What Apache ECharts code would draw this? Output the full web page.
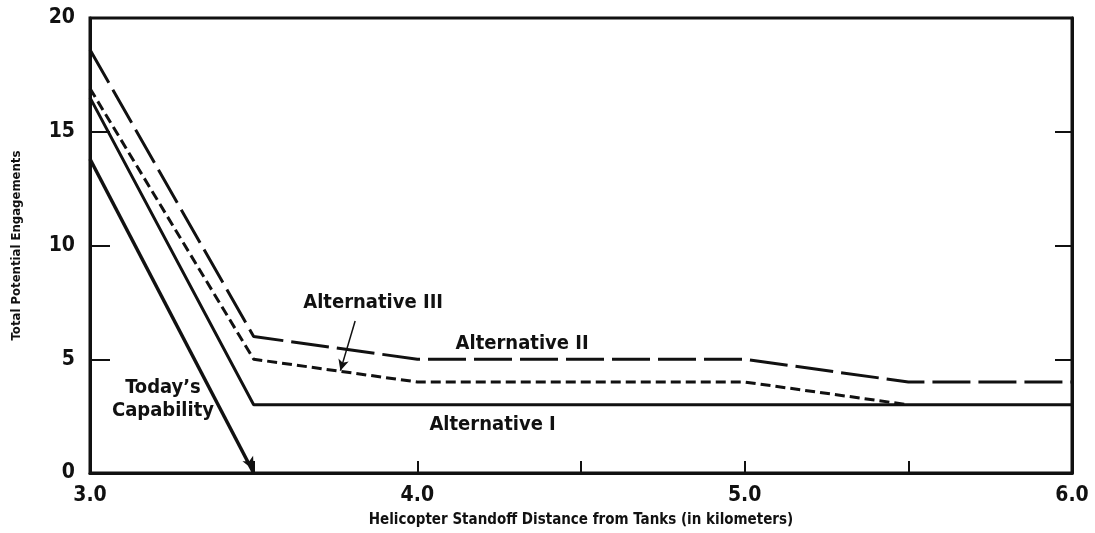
<!DOCTYPE html>
<html>
<head>
<meta charset="utf-8">
<script src="https://cdn.jsdelivr.net/npm/echarts@6/dist/echarts.min.js"></script>
<style>
  html, body { margin: 0; padding: 0; background: #fff; }
  #chart { width: 1095px; height: 533px; }
</style>
</head>
<body>
<div id="chart"></div>
<script>
// distances (km) and engagements
var distTodays = [3.0, 3.5];
var todays = [13.8, 0];
var distAlt1 = [3.0, 3.5, 4.0, 5.0, 5.5, 6.0];
var alt1 = [16.5, 3, 3, 3, 3, 3];
var distAlt2 = [3.0, 3.5, 4.0, 5.0, 5.5, 6.0];
var alt2 = [18.6, 6, 5, 5, 4, 4];
var distAlt3 = [3.0, 3.5, 4.0, 5.0, 5.5];
var alt3 = [16.9, 5, 4, 4, 3];

var FONT = "'DejaVu Sans Condensed', 'Liberation Sans Narrow', 'Liberation Sans', sans-serif";
var INK = '#111';

function pairs(xs, ys) {
  return xs.map(function (x, i) { return [x, ys[i]]; });
}

var chart = echarts.init(document.getElementById('chart'));

var todayData = pairs(distTodays, todays);
todayData[todayData.length - 1] = {
  value: todayData[todayData.length - 1],
  symbol: 'arrow',
  symbolSize: [9, 13],
  symbolRotate: 207,
  symbolOffset: [0, -3],
  itemStyle: { color: INK }
};

var lblStyle = { fontFamily: FONT, fontWeight: 'bold', fontSize: 20, color: INK };

chart.setOption({
  animation: false,
  backgroundColor: '#fff',
  grid: { left: 90, right: 23, top: 18, bottom: 57, show: true, borderColor: INK, borderWidth: 3 },
  xAxis: {
    type: 'value', min: 3, max: 6, interval: 0.5,
    name: 'Helicopter Standoff Distance from Tanks (in kilometers)',
    nameLocation: 'middle', nameGap: 40,
    nameTextStyle: { fontFamily: FONT, fontWeight: 'bold', fontSize: 15, color: INK },
    axisLine: { lineStyle: { color: INK, width: 3 } },
    axisTick: { inside: true, length: 12, lineStyle: { color: INK, width: 2 } },
    axisLabel: {
      margin: 12, fontFamily: FONT, fontWeight: 'bold', fontSize: 21, color: INK,
      formatter: function (v) { return Math.abs(v - Math.round(v)) < 1e-6 ? v.toFixed(1) : ''; }
    },
    splitLine: { show: false }
  },
  yAxis: [{
    type: 'value', min: 0, max: 20, interval: 5,
    name: 'Total Potential Engagements',
    nameLocation: 'middle', nameGap: 67,
    nameTextStyle: { fontFamily: FONT, fontWeight: 'bold', fontSize: 13, color: INK },
    axisLine: { show: true, lineStyle: { color: INK, width: 3 } },
    axisTick: { inside: true, length: 20, lineStyle: { color: INK, width: 2 } },
    axisLabel: { margin: 15, fontFamily: FONT, fontWeight: 'bold', fontSize: 21, color: INK },
    splitLine: { show: false }
  }, {
    type: 'value', min: 0, max: 20, interval: 5, position: 'right',
    axisLine: { show: true, lineStyle: { color: INK, width: 3 } },
    axisTick: { inside: true, length: 17, lineStyle: { color: INK, width: 2 } },
    axisLabel: { show: false },
    splitLine: { show: false }
  }],
  series: [{
    name: "Today’s Capability", type: 'line', data: todayData,
    symbol: 'none', lineStyle: { color: INK, width: 3.5 },
    markPoint: {
      symbol: 'circle', symbolSize: 0,
      label: { show: true, position: 'inside', lineHeight: 23, formatter: "Today’s\nCapability", ...lblStyle },
      data: [{ coord: [3.223, 3.25] }]
    }
  }, {
    name: 'Alternative I', type: 'line', data: pairs(distAlt1, alt1),
    symbol: 'none', lineStyle: { color: INK, width: 3 },
    markPoint: {
      symbol: 'circle', symbolSize: 0,
      label: { show: true, position: 'inside', formatter: 'Alternative I', ...lblStyle },
      data: [{ coord: [4.23, 2.1] }]
    }
  }, {
    name: 'Alternative II', type: 'line', data: pairs(distAlt2, alt2),
    symbol: 'none', lineStyle: { color: INK, width: 3, type: [38, 8] },
    markPoint: {
      symbol: 'circle', symbolSize: 0,
      label: { show: true, position: 'inside', formatter: 'Alternative II', ...lblStyle },
      data: [{ coord: [4.32, 5.7] }]
    }
  }, {
    name: 'Alternative III', type: 'line', data: pairs(distAlt3, alt3),
    symbol: 'none', lineStyle: { color: INK, width: 3, type: [10, 5] },
    markPoint: {
      symbol: 'circle', symbolSize: 0,
      label: { show: true, position: 'inside', formatter: 'Alternative III', ...lblStyle },
      data: [{ coord: [3.865, 7.5] }]
    },
    markLine: {
      silent: true, symbol: ['none', 'arrow'], symbolSize: [8, 11],
      lineStyle: { color: INK, width: 1.5, type: 'solid' },
      label: { show: false },
      data: [[{ coord: [3.81, 6.68] }, { coord: [3.765, 4.5] }]]
    }
  }]
});
</script>
</body>
</html>
